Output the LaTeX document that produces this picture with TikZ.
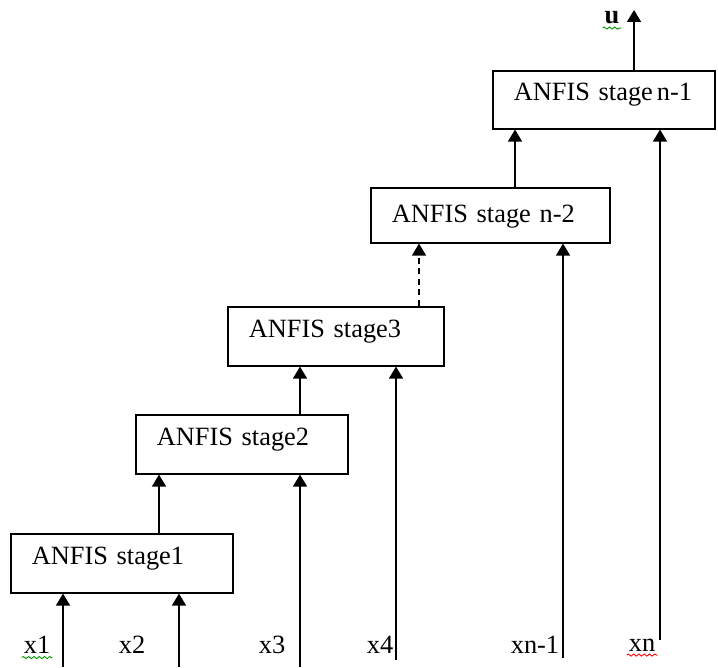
\documentclass[tikz,border=0pt]{standalone}
\usepackage{fontspec}
\setmainfont{Liberation Serif}
\usetikzlibrary{arrows.meta,decorations.pathmorphing}

\begin{document}
\begin{tikzpicture}[
        stage/.style={draw, line width=0.9pt, rectangle, anchor=north west, inner xsep=0.42cm, inner ysep=0pt,
                      align=left, text height=0.62cm, text depth=0.56cm, font=\fontsize{15}{18}\selectfont},
        inp/.style={font=\fontsize{15}{18}\selectfont, inner sep=1pt},
        arrow/.style={-{Triangle[width=0.28cm,length=0.24cm]}, line width=0.9pt},
        dasharrow/.style={arrow, dash pattern=on 3.5pt off 2.5pt},
        squiggle/.style={decorate, decoration={snake, amplitude=0.6pt, segment length=3pt}, line width=0.5pt}
    ]
        \useasboundingbox (0,0) rectangle (14.36,13.34);

        % === Stages ===
        \node[stage, text width=3.6cm] (S1) at (0.2,2.68) {ANFIS stage1};
        \node[stage, text width=3.4cm] (S2) at (2.7,5.06) {ANFIS stage2};
        \node[stage, text width=3.48cm] (S3) at (4.54,7.22) {ANFIS stage3};
        \node[stage, text width=3.94cm, text height=0.69cm, text depth=0.41cm] (Sn2) at (7.4,9.6) {\mbox{ANFIS stage n-2}};
        \node[stage, text width=3.6cm, text height=0.6cm] (Sn1) at (9.84,11.94) {\mbox{ANFIS stage\hspace{0.15em}n-1}};

        % === Inputs ===
        \coordinate (in1) at (1.26,0);
        \coordinate (in2) at (3.58,0);
        \coordinate (in3) at (6.0,0);
        \coordinate (in4) at (7.92,0.14);
        \coordinate (inn1) at (11.26,0.18);
        \coordinate (inn) at (13.2,0.54);
        \coordinate (out) at (12.68,13.14);

        \node[inp] (l1) at (0.74,0.44) {x1};
        \node[inp] (l2) at (2.64,0.44) {x2};
        \node[inp] (l3) at (5.44,0.44) {x3};
        \node[inp] (l4) at (7.6,0.44) {x4};
        \node[inp] (ln1) at (10.7,0.44) {xn-1};
        \node[inp] (ln) at (12.84,0.44) {xn};
        \node[inp] (lu) at (12.24,12.98) {\textbf{u}};

        \draw[arrow] (in1) -- (in1 |- S1.south);
        \draw[arrow] (in2) -- (in2 |- S1.south);
        \draw[arrow] (in3) -- (in3 |- S2.south);
        \draw[arrow] (in4) -- (in4 |- S3.south);
        \draw[arrow] (inn1) -- (inn1 |- Sn2.south);
        \draw[arrow] (inn) -- (inn |- Sn1.south);

        % === Stage to stage ===
        \draw[arrow] (S1.north -| 3.18,0) -- (S2.south -| 3.18,0);
        \draw[arrow] (S2.north -| in3) -- (S3.south -| in3);
        \draw[dasharrow] (S3.north -| 8.38,0) -- (Sn2.south -| 8.38,0);
        \draw[arrow] (Sn2.north -| 10.3,0) -- (Sn1.south -| 10.3,0);
        \draw[arrow] (Sn1.north -| out) -- (out);

        % spell-check marks
        \draw[squiggle, green!60!black] ([yshift=-1pt]l1.south west) -- ([yshift=-1pt]l1.south east);
        \draw[squiggle, red] ([yshift=-1pt]ln.south west) -- ([yshift=-1pt]ln.south east);
        \draw[squiggle, green!60!black] ([yshift=-1pt]lu.south west) -- ([yshift=-1pt]lu.south east);
    \end{tikzpicture}
\end{document}
